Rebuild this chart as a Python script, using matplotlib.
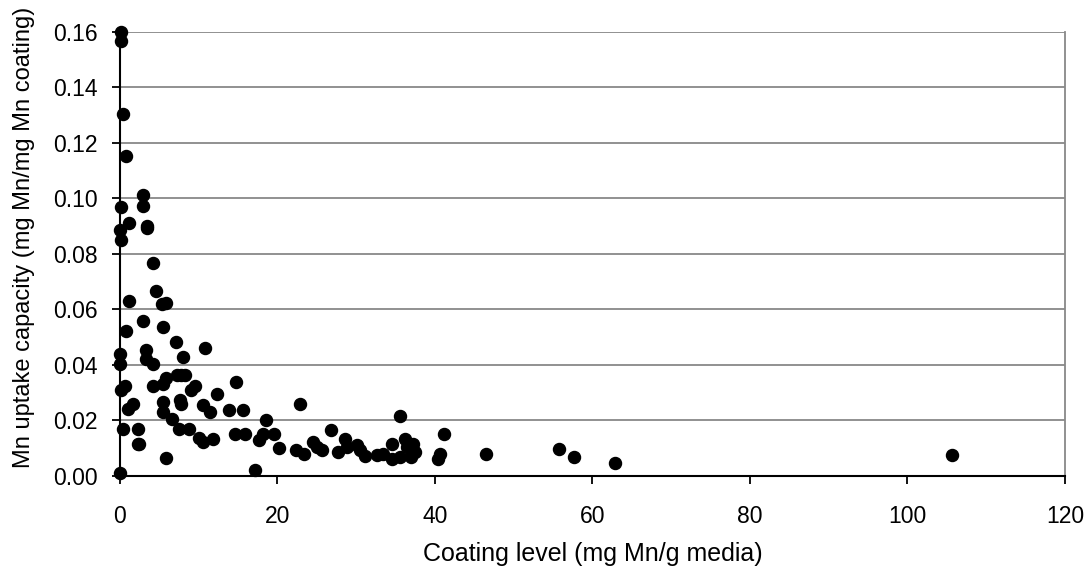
import numpy as np
import matplotlib.pyplot as plt

plt.rcParams['font.family'] = ['Liberation Sans', 'DejaVu Sans']

# coating level (mg Mn/g media)
coating = [
    0.1, 0.1, 0.42, 0.72, 2.96, 2.96, 0.2, 1.2, 3.4, 3.5, 0.0, 0.2,
    4.23, 4.53, 1.18, 5.3, 5.84, 2.96, 5.5, 0.72, 7.07, 10.8, 8.04,
    3.26, 3.26, 0.0, 0.0, 4.2, 7.2, 7.8, 8.3, 5.9, 5.5, 4.2, 0.63, 0.2,
    9.5, 9.0, 14.8, 12.3, 7.6, 7.8, 5.5, 10.6, 11.4, 1.7, 1.06, 13.8,
    15.6, 5.5, 6.6, 18.6, 22.9, 0.42, 2.25, 7.5, 8.8, 10.0, 10.6, 11.8,
    14.6, 15.9, 17.6, 18.2, 19.6, 20.2, 22.3, 2.25, 2.4, 5.8, 17.1, 0.0,
    35.6, 26.8, 41.2, 23.4, 24.5, 25.0, 25.6, 28.6, 28.8, 27.7, 30.05,
    30.5, 31.1, 32.6, 33.4, 34.5, 34.5, 35.6, 36.2, 36.4, 37.2, 37.5,
    37.0, 40.6, 40.4, 46.5, 55.8, 57.6, 62.9, 105.6,
]
# uptake capacity (mg Mn/mg Mn coating)
uptake = [
    0.160, 0.1566, 0.1306, 0.1154, 0.1014, 0.0974, 0.0968, 0.0912,
    0.0902, 0.0894, 0.0888, 0.0852, 0.0767, 0.0667, 0.0631, 0.0620,
    0.0625, 0.056, 0.0538, 0.0524, 0.0482, 0.046, 0.043, 0.0454, 0.0422,
    0.0438, 0.0404, 0.0402, 0.0365, 0.0365, 0.0365, 0.0353, 0.0333,
    0.0323, 0.0323, 0.0309, 0.0323, 0.0309, 0.0338, 0.0294, 0.0275,
    0.0258, 0.0267, 0.0255, 0.0229, 0.0258, 0.0243, 0.0237, 0.0237,
    0.0229, 0.0207, 0.0201, 0.0258, 0.0171, 0.0171, 0.0171, 0.0171,
    0.0137, 0.0123, 0.0135, 0.0153, 0.0151, 0.0129, 0.0153, 0.0151,
    0.0102, 0.0093, 0.0117, 0.0115, 0.0064, 0.0022, 0.001,
    0.0216, 0.0165, 0.0151, 0.0079, 0.0123, 0.0105, 0.0093, 0.0132,
    0.0105, 0.0087, 0.0111, 0.0093, 0.0072, 0.0075, 0.0081, 0.0117,
    0.0063, 0.0069, 0.0132, 0.0105, 0.0117, 0.0087, 0.0067, 0.0081,
    0.0063, 0.0079, 0.0097, 0.0067, 0.0047, 0.0075,
]

fig = plt.figure(figsize=(10.9, 5.71), dpi=100)
ax = fig.add_axes([0.110, 0.1664, 0.867, 0.7776])

ax.scatter(coating, uptake, s=75, color='black', zorder=3, clip_on=False)

ax.set_xlim(0, 120)
ax.set_ylim(0, 0.16)
ax.set_xticks(np.arange(0, 121, 20))
ax.set_yticks(np.arange(0, 0.161, 0.02))
ax.yaxis.set_major_formatter(plt.FormatStrFormatter('%.2f'))

ax.grid(axis='y', color='#888888', linewidth=1.3)
ax.set_axisbelow(True)
ax.spines['top'].set_visible(False)
ax.spines['right'].set_color('#888888')
ax.spines['right'].set_linewidth(1.3)
ax.spines['left'].set_linewidth(1.5)
ax.spines['bottom'].set_linewidth(1.5)

ax.tick_params(direction='out', length=6, width=1.3, labelsize=16.5)
ax.tick_params(axis='y', pad=10)
ax.tick_params(axis='x', pad=15)
ax.set_xlabel('Coating level (mg Mn/g media)', fontsize=18)
ax.set_ylabel('Mn uptake capacity (mg Mn/mg Mn coating)', fontsize=17)
ax.xaxis.set_label_coords(0.5, -0.149)
ax.yaxis.set_label_coords(-0.090, 0.537)

fig.savefig('out.png', dpi=100)
